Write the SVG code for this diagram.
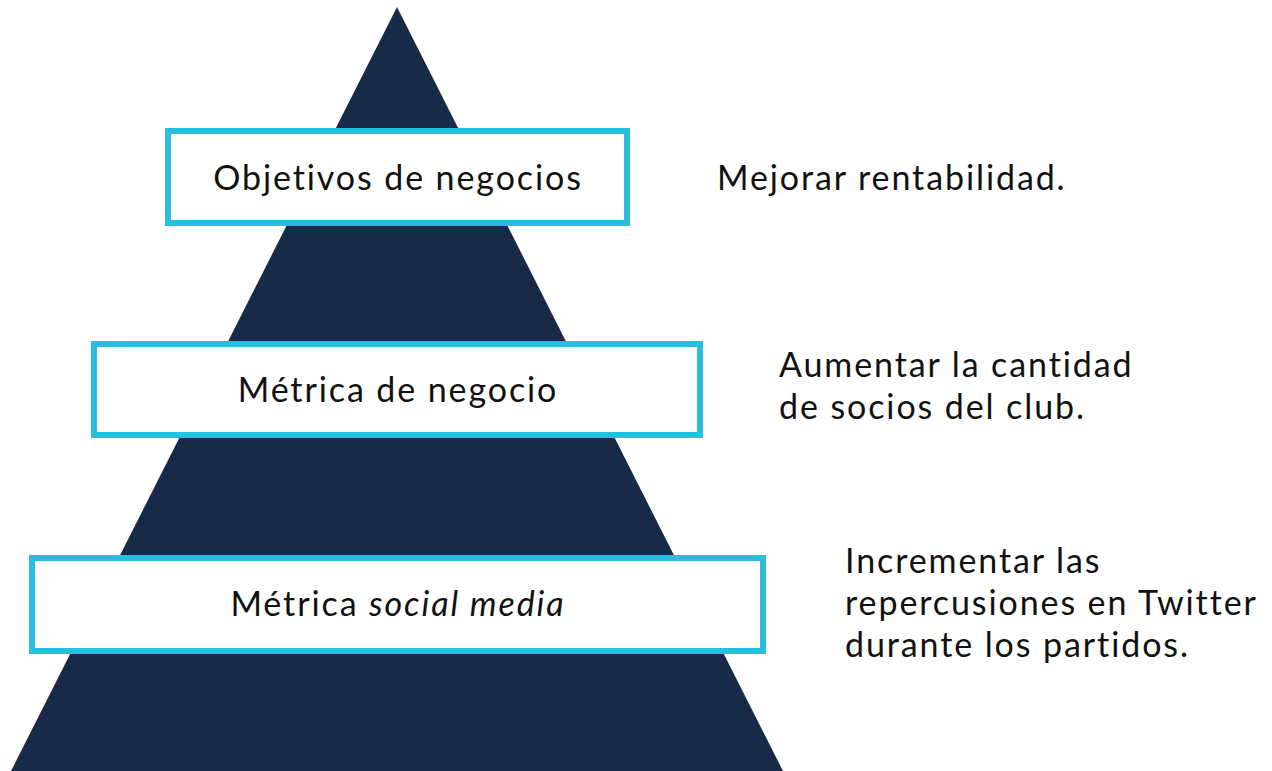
<svg xmlns="http://www.w3.org/2000/svg" width="1272" height="771" viewBox="0 0 1272 771">
<style>
.box{fill:#ffffff;stroke:#2bbde0;stroke-width:6}
.t{font-family:Lato,"Open Sans","Liberation Sans",sans-serif;font-size:34px;letter-spacing:1.9px;fill:#111111}
.c{text-anchor:middle}
</style>
<rect width="1272" height="771" fill="#ffffff"/>
<polygon id="pyramid" points="397,7 785,775 9,775" fill="#172a48"/>
<g id="connectors"></g>
<g id="node1">
<rect class="box" x="168" y="131" width="459" height="92"/>
<text class="t c" x="398" y="190">Objetivos de negocios</text>
</g>
<g id="node2">
<rect class="box" x="94" y="344" width="606" height="91"/>
<text class="t c" x="398" y="402">Métrica de negocio</text>
</g>
<g id="node3">
<rect class="box" x="32" y="558" width="731" height="93"/>
<text class="t c" x="398" y="616">Métrica <tspan font-style="italic">social media</tspan></text>
</g>
<g id="note1">
<text class="t" x="717" y="190">Mejorar rentabilidad.</text>
</g>
<g id="note2">
<text class="t" x="779" y="377">Aumentar la cantidad</text>
<text class="t" x="779" y="419">de socios del club.</text>
</g>
<g id="note3">
<text class="t" x="845" y="573">Incrementar las</text>
<text class="t" x="845" y="615">repercusiones en Twitter</text>
<text class="t" x="845" y="657">durante los partidos.</text>
</g>
</svg>
